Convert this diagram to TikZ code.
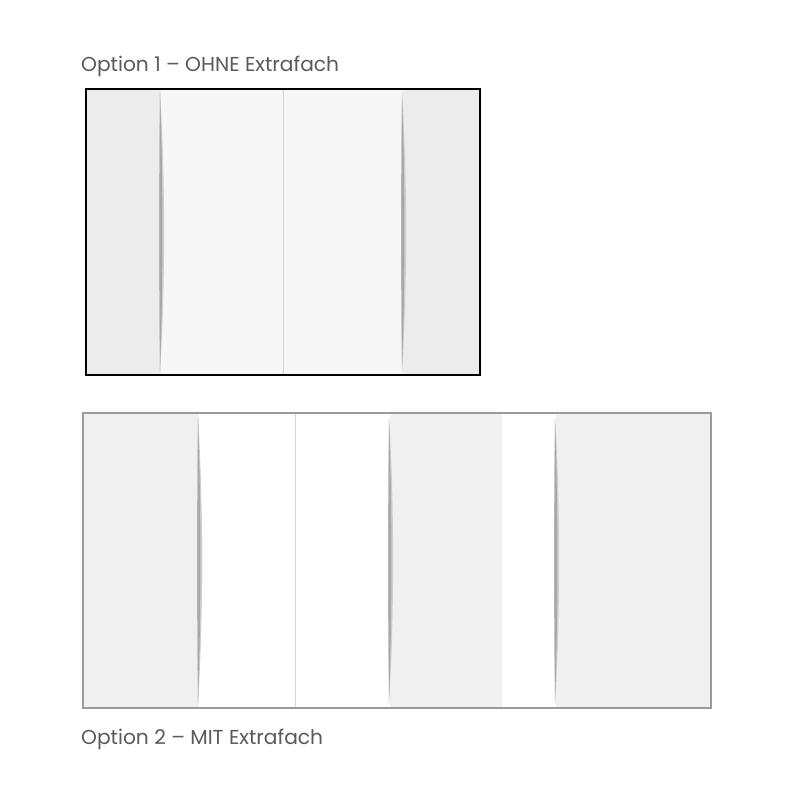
\documentclass[tikz,border=0pt]{standalone}
\usepackage{fontspec}
\setmainfont{Poppins}
\definecolor{panelA}{HTML}{ECECEC}
\definecolor{panelB}{HTML}{F7F7F7}
\definecolor{panelC}{HTML}{F0F0F0}
\definecolor{foldC}{HTML}{A8A8A8}
\definecolor{foldL}{HTML}{CFCFCF}
\definecolor{thinC}{HTML}{D4D4D4}
\definecolor{txtC}{HTML}{5A5A5A}
\definecolor{frameB}{HTML}{9A9A9A}
\tikzset{
  cap label/.style={anchor=base west, inner sep=0pt, text=txtC, font=\fontsize{20.2}{24}\selectfont},
  fold/.style={fill=foldC},
  fold soft/.style={fill=foldL},
  thin fold/.style={draw=thinC, line width=1pt},
}
\newcommand{\foldshadow}[3]{% x, ytop, ybot
  \fill[fold soft] (#1,#2) .. controls ({#1+5.5},{#2+(#3-#2)*0.3}) and ({#1+5.5},{#2+(#3-#2)*0.7}) .. (#1,#3)
     .. controls ({#1-1.2},{#2+(#3-#2)*0.7}) and ({#1-1.2},{#2+(#3-#2)*0.3}) .. (#1,#2) -- cycle;
  \fill[fold] (#1,#2) .. controls ({#1+3.2},{#2+(#3-#2)*0.3}) and ({#1+3.2},{#2+(#3-#2)*0.7}) .. (#1,#3)
     .. controls ({#1-0.8},{#2+(#3-#2)*0.7}) and ({#1-0.8},{#2+(#3-#2)*0.3}) .. (#1,#2) -- cycle;
}
\begin{document}
\begin{tikzpicture}[x=1pt,y=-1pt]
\useasboundingbox[fill=white] (0,0) rectangle (794,794);
% Option 1
\node[cap label] (t1) at (81,72) {Option 1 – OHNE Extrafach};
\fill[panelA] (86,89) rectangle (161,375);
\fill[panelB] (161,89) rectangle (403,375);
\fill[panelA] (403,89) rectangle (480,375);
\draw[thin fold] (283,90) -- (283,374);
\foldshadow{160}{93}{371}
\foldshadow{402}{93}{371}
\draw[black, line width=1.3pt] (86,89) rectangle (480,375);
% Option 2
\fill[panelC] (83,413) rectangle (199,708);
\fill[white] (199,413) rectangle (390,708);
\fill[panelC] (390,413) rectangle (502,708);
\fill[white] (502,413) rectangle (556,708);
\fill[panelC] (556,413) rectangle (711,708);
\draw[thin fold] (295,414) -- (295,707);
\foldshadow{198}{418}{703}
\foldshadow{389}{418}{703}
\foldshadow{555}{418}{703}
\draw[frameB, line width=2pt] (83,413) rectangle (711,708);
\node[cap label] (t2) at (81,744) {Option 2 – MIT Extrafach};
\end{tikzpicture}
\end{document}
